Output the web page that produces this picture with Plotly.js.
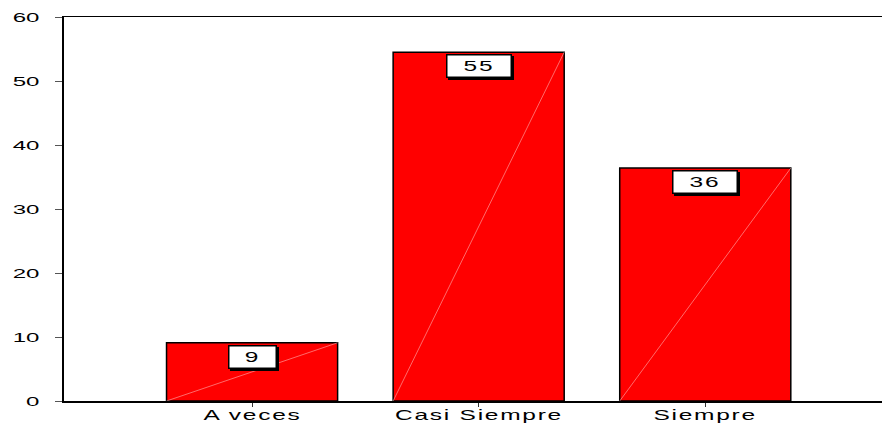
<!DOCTYPE html>
<html>
<head>
<meta charset="utf-8">
<script src="https://cdn.plot.ly/plotly-3.0.1.min.js"></script>
<style>html,body{margin:0;padding:0;background:#fff;}#chart{width:882px;height:424px;}</style>
</head>
<body>
<div id="chart"></div>
<script>
var categories = ["A veces", "Casi Siempre", "Siempre"];
var values = [9.1, 54.5, 36.4];
var labels = ["9", "55", "36"];
var yTicks = [0, 10, 20, 30, 40, 50, 60];

var FONT = "Liberation Sans, Arial, sans-serif";
var barWidth = 0.755;
var xPos = categories.map(function (c, i) { return i; });

var traces = [{
  type: "bar",
  x: xPos,
  y: values,
  width: barWidth,
  marker: {color: "#ff0000", line: {color: "#000000", width: 1.5}},
  hoverinfo: "none"
}];
// faint diagonal line inside each bar
values.forEach(function (v, i) {
  traces.push({
    type: "scatter", mode: "lines",
    x: [xPos[i] - barWidth / 2, xPos[i] + barWidth / 2],
    y: [0, v],
    line: {color: "rgba(255,190,190,0.8)", width: 0.7},
    hoverinfo: "none", showlegend: false
  });
});

var annotations = [];
// shadows of value boxes (no text)
values.forEach(function (v, i) {
  annotations.push({
    x: xPos[i], y: v, xref: "x", yref: "y",
    text: "\u00a0", showarrow: false,
    yanchor: "top", yshift: -4, xshift: 2,
    bgcolor: "#000000", bordercolor: "#000000", borderwidth: 1.5, borderpad: 2,
    width: labels[i].length === 1 ? 42 : 59, height: 17,
    font: {family: FONT, size: 14, color: "#000"}
  });
});
// value boxes
values.forEach(function (v, i) {
  annotations.push({
    x: xPos[i], y: v, xref: "x", yref: "y",
    text: labels[i], showarrow: false,
    yanchor: "top", yshift: -2,
    bgcolor: "#ffffff", bordercolor: "#000000", borderwidth: 1.5, borderpad: 2,
    width: labels[i].length === 1 ? 42 : 59, height: 17,
    font: {family: FONT, size: 14, color: "#000"}
  });
});
// category labels
categories.forEach(function (c, i) {
  annotations.push({
    x: xPos[i], y: 0, xref: "x", yref: "paper",
    text: c, showarrow: false,
    yanchor: "top", yshift: -4,
    font: {family: FONT, size: 14, color: "#000"}
  });
});

var layout = {
  width: 882, height: 424,
  margin: {l: 64, r: 0, t: 17, b: 23},
  paper_bgcolor: "#fff", plot_bgcolor: "#fff",
  showlegend: false,
  bargap: 0,
  xaxis: {
    range: [-0.83, 2.78],
    tickmode: "array", tickvals: xPos, showticklabels: false,
    showline: true, linecolor: "#000", linewidth: 1.5, mirror: true,
    ticks: "outside", ticklen: 4, tickcolor: "#333",
    showgrid: false, zeroline: false
  },
  yaxis: {
    range: [0, 60],
    tickmode: "array", tickvals: yTicks, ticktext: yTicks.map(String),
    showline: true, linecolor: "#000", linewidth: 2,
    ticks: "outside", ticklen: 7, tickcolor: "#555",
    ticklabelstandoff: 13,
    showgrid: false, zeroline: false,
    tickfont: {family: FONT, size: 13, color: "#000"}
  },
  annotations: annotations
};

function stretch(el, s, anchorRight) {
  var bb = el.getBBox();
  var cx = anchorRight ? bb.x + bb.width : bb.x + bb.width / 2;
  var t = el.getAttribute("transform") || "";
  el.setAttribute("transform", t + " translate(" + cx + ",0) scale(" + s + ",1) translate(" + (-cx) + ",0)");
}

Plotly.newPlot("chart", traces, layout, {displayModeBar: false, staticPlot: true}).then(function (gd) {
  gd.querySelectorAll("g.ytick text").forEach(function (el) { stretch(el, 1.85, true); });
  gd.querySelectorAll("text.annotation-text").forEach(function (el) {
    el.style.letterSpacing = "1px";
    stretch(el, 1.75, false);
  });
});
</script>
</body>
</html>
